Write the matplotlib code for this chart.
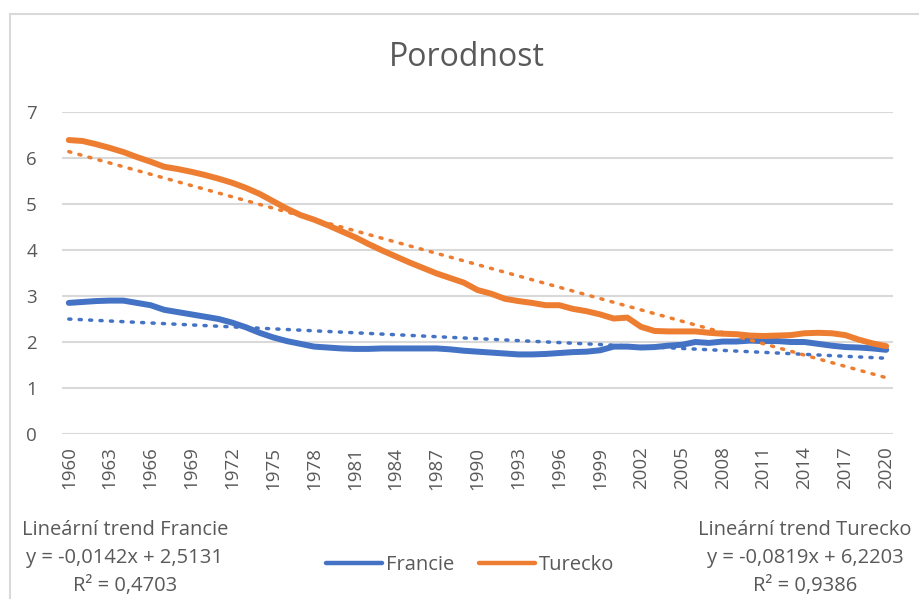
import matplotlib
matplotlib.use('Agg')
import matplotlib.pyplot as plt
import numpy as np
from matplotlib.lines import Line2D

plt.rcParams['font.family'] = ['Open Sans', 'DejaVu Sans']

years = list(range(1960, 2021))

francie = [
    2.85, 2.87, 2.89, 2.90, 2.90, 2.85, 2.80, 2.70, 2.65, 2.60,
    2.55, 2.50, 2.42, 2.32, 2.20, 2.10, 2.02, 1.96, 1.90, 1.88,
    1.86, 1.85, 1.85, 1.86, 1.86, 1.86, 1.86, 1.86, 1.84, 1.81,
    1.79, 1.77, 1.75, 1.73, 1.73, 1.74, 1.76, 1.78, 1.79, 1.82,
    1.90, 1.90, 1.88, 1.89, 1.92, 1.94, 2.00, 1.98, 2.01, 2.01,
    2.03, 2.02, 2.02, 2.00, 2.00, 1.96, 1.92, 1.89, 1.88, 1.86,
    1.83,
]

turecko = [
    6.39, 6.37, 6.30, 6.22, 6.13, 6.02, 5.92, 5.81, 5.76, 5.70,
    5.63, 5.55, 5.46, 5.35, 5.22, 5.06, 4.90, 4.76, 4.66, 4.54,
    4.41, 4.28, 4.13, 3.99, 3.86, 3.73, 3.61, 3.49, 3.39, 3.29,
    3.13, 3.05, 2.94, 2.89, 2.85, 2.80, 2.80, 2.72, 2.67, 2.60,
    2.51, 2.53, 2.33, 2.24, 2.23, 2.23, 2.23, 2.20, 2.18, 2.17,
    2.14, 2.13, 2.14, 2.15, 2.19, 2.20, 2.19, 2.15, 2.05, 1.97,
    1.91,
]

# Excel trend coefficients (x = 1..61)
trend_francie = (-0.0142, 2.5131, 0.4703)
trend_turecko = (-0.0819, 6.2203, 0.9386)

blue = '#4472C4'
orange = '#ED7D31'
grey_txt = '#595959'

fig = plt.figure(figsize=(9.2, 5.99), dpi=100)
ax = fig.add_axes([62 / 920, 165 / 599, 831 / 920, 322 / 599])

idx = np.arange(1, len(years) + 1)
yr = np.array(years)

ax.plot(yr, francie, color=blue, lw=4.3, solid_capstyle='round', zorder=3)
ax.plot(yr, turecko, color=orange, lw=4.3, solid_capstyle='round', zorder=3)
ax.plot(yr, trend_francie[0] * idx + trend_francie[1], color=blue, lw=2.5,
        linestyle=(0, (0.6, 2.4)), dash_capstyle='round', zorder=4)
ax.plot(yr, trend_turecko[0] * idx + trend_turecko[1], color=orange, lw=2.5,
        linestyle=(0, (0.6, 2.4)), dash_capstyle='round', zorder=4)

ax.set_xlim(1959.5, 2020.5)
ax.set_ylim(0, 7)
ax.set_yticks(range(0, 8))
ax.set_xticks(years[::3])
ax.set_xticklabels([str(y) for y in years[::3]], rotation=90)
ax.tick_params(axis='both', length=0, labelsize=13.5, colors=grey_txt)
ax.tick_params(axis='x', pad=9)
ax.tick_params(axis='y', pad=18)
ax.grid(axis='y', color='#D9D9D9', lw=1.5)
ax.set_axisbelow(True)
for s in ax.spines.values():
    s.set_visible(False)

fig.text(467 / 920, 1 - 57 / 599, 'Porodnost', ha='center', va='center',
         fontsize=23, color=grey_txt)

# chart area frame (left and top edges)
fig.add_artist(Line2D([10.5 / 920, 10.5 / 920], [0, 1 - 13.5 / 599],
                      color='#D9D9D9', lw=1.5))
fig.add_artist(Line2D([10.5 / 920, 1], [1 - 13.5 / 599, 1 - 13.5 / 599],
                      color='#D9D9D9', lw=1.5))


def fmt(v, d):
    return f'{v:.{d}f}'.replace('.', ',')


def trend_text(name, t):
    return (f'Lineární trend {name}\n'
            f'y = {fmt(t[0], 4)}x + {fmt(t[1], 4)}\n'
            f'R² = {fmt(t[2], 4)}')


fig.text(125 / 920, 1 - 558 / 599, trend_text('Francie', trend_francie),
         ha='center', va='center', fontsize=14.5, color=grey_txt,
         linespacing=1.55, multialignment='center')
fig.text(805 / 920, 1 - 558 / 599, trend_text('Turecko', trend_turecko),
         ha='center', va='center', fontsize=14.5, color=grey_txt,
         linespacing=1.55, multialignment='center')

handles = [Line2D([], [], color=blue, lw=3.2, solid_capstyle='round'),
           Line2D([], [], color=orange, lw=3.2, solid_capstyle='round')]
leg = fig.legend(handles, ['Francie', 'Turecko'], loc='center',
                 bbox_to_anchor=(470 / 920, 1 - 565 / 599), ncol=2, frameon=False,
                 fontsize=14.5, handlelength=2.8, handletextpad=0.2,
                 columnspacing=1.2)
for t in leg.get_texts():
    t.set_color(grey_txt)

fig.savefig('out.png', dpi=100, facecolor='white')
